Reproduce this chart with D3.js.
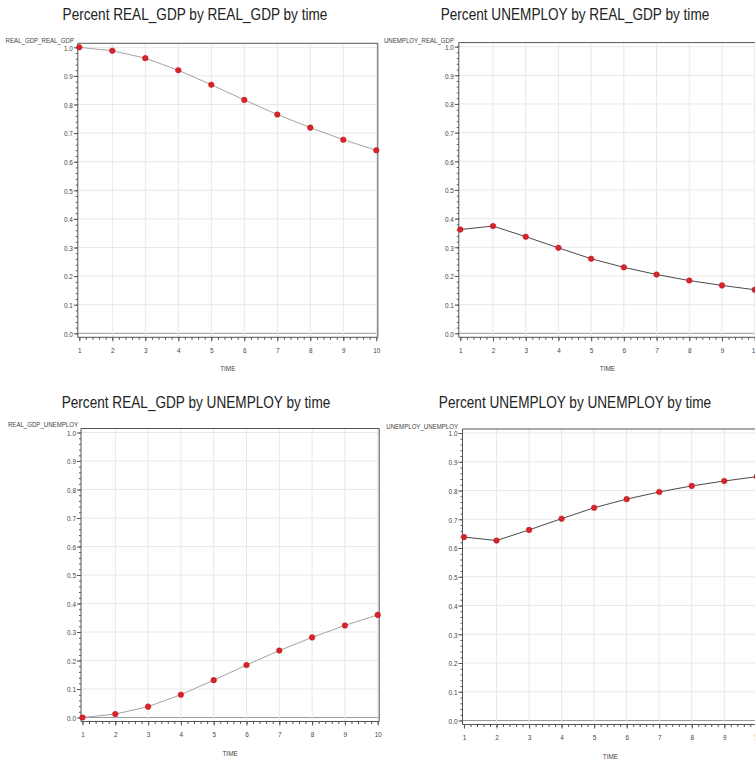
<!DOCTYPE html>
<html><head><meta charset="utf-8">
<script src="https://cdn.jsdelivr.net/npm/d3@7"></script>
<style>
body{margin:0;background:#fff;}
svg{display:block;}
text{font-family:"Liberation Sans","DejaVu Sans",sans-serif;}
</style></head>
<body><svg id="c" width="755" height="761"></svg>
<script>
// ---- data ----
const times = [1,2,3,4,5,6,7,8,9,10];
const realGdpByRealGdp   = [1.000,0.988,0.962,0.920,0.869,0.816,0.765,0.719,0.677,0.640];
const unemployByRealGdp  = [0.362,0.374,0.337,0.298,0.260,0.230,0.205,0.184,0.167,0.152];
const realGdpByUnemploy  = [0.000,0.012,0.038,0.080,0.131,0.184,0.235,0.281,0.323,0.360];
const unemployByUnemploy = [0.638,0.626,0.663,0.702,0.740,0.770,0.795,0.816,0.833,0.848];
const titles = ["Percent REAL_GDP by REAL_GDP by time","Percent UNEMPLOY by REAL_GDP by time",
                "Percent REAL_GDP by UNEMPLOY by time","Percent UNEMPLOY by UNEMPLOY by time"];
const yLabels = ["REAL_GDP_REAL_GDP","UNEMPLOY_REAL_GDP","REAL_GDP_UNEMPLOY","UNEMPLOY_UNEMPLOY"];
const xLabel = "TIME";
const yTicks = [0,0.1,0.2,0.3,0.4,0.5,0.6,0.7,0.8,0.9,1.0];
const series = [realGdpByRealGdp, unemployByRealGdp, realGdpByUnemploy, unemployByUnemploy];

// ---- layout ----
const panels = [
  {x:[79.3,376.3], y:[333.3,47.3], tx:195, ty:20, lx:74, ly:43, line:"#a3a3a3"},
  {x:[460.3,754.7], y:[333.3,46.6], tx:575, ty:20, lx:454, ly:43, line:"#4a4a4a"},
  {x:[82.5,377.7], y:[717.5,432.5], tx:196, ty:408, lx:78, ly:427, line:"#a3a3a3"},
  {x:[464,756.8], y:[720.5,433], tx:575, ty:408, lx:458, ly:429, line:"#4a4a4a"}
];
const svg = d3.select("#c");
const minorY = d3.range(0,51).map(i=>i/50);
const minorX = d3.range(0,46).map(i=>1+i/5);

function squeeze(sel, k){
  sel.each(function(){
    const w = this.getComputedTextLength();
    if (w>0) d3.select(this).attr("textLength", w*k).attr("lengthAdjust","spacingAndGlyphs");
  });
}

panels.forEach((p,i)=>{
  const x = d3.scaleLinear().domain([1,10]).range(p.x);
  const y = d3.scaleLinear().domain([0,1]).range(p.y);
  const g = svg.append("g");
  const left = p.x[0]-1.5, right = p.x[1]+1.5, top = p.y[1]-4, bottom = p.y[0]+4;

  // gridlines
  g.append("g").selectAll("line").data(yTicks).join("line")
    .attr("x1",left).attr("x2",right).attr("y1",d=>y(d)).attr("y2",d=>y(d))
    .attr("stroke",d=>d===0?"#9a9a9a":"#e8e8e8").attr("stroke-width",1);
  g.append("g").selectAll("line").data(times.slice(1)).join("line")
    .attr("x1",d=>x(d)).attr("x2",d=>x(d)).attr("y1",top).attr("y2",bottom)
    .attr("stroke","#e8e8e8").attr("stroke-width",1);

  // frame top / right
  g.append("path").attr("d",`M${left},${top}H${right}V${bottom}`)
    .attr("fill","none").attr("stroke","#555").attr("stroke-width",1);

  // y axis
  const ya = g.append("g").attr("transform",`translate(${left},0)`)
    .call(d3.axisLeft(y).tickValues(yTicks).tickFormat(d3.format(".1f")).tickSize(4).tickSizeOuter(0));
  g.append("g").attr("transform",`translate(${left},0)`)
    .call(d3.axisLeft(y).tickValues(minorY).tickFormat("").tickSize(2).tickSizeOuter(0))
    .select(".domain").remove();
  ya.select(".domain").attr("d",`M0,${top}V${bottom}`);
  // x axis
  const xa = g.append("g").attr("transform",`translate(0,${bottom})`)
    .call(d3.axisBottom(x).tickValues(times).tickFormat(d3.format("d")).tickSize(4).tickSizeOuter(0));
  g.append("g").attr("transform",`translate(0,${bottom})`)
    .call(d3.axisBottom(x).tickValues(minorX).tickFormat("").tickSize(2.5).tickSizeOuter(0))
    .select(".domain").remove();
  xa.select(".domain").attr("d",`M${left},0H${right}`);
  g.selectAll(".domain").attr("stroke","#555");
  g.selectAll(".tick line").attr("stroke","#555");
  ya.selectAll("text").attr("font-size",8).attr("fill","#444").attr("x",-5).attr("dy","0.35em")
    .attr("font-family",'"Liberation Sans",sans-serif');
  xa.selectAll("text").attr("font-size",8).attr("fill","#444").attr("y",10)
    .attr("font-family",'"Liberation Sans",sans-serif');
  squeeze(ya.selectAll("text"), 0.8);
  squeeze(xa.selectAll("text"), 0.8);

  // axis labels
  squeeze(g.append("text").attr("x",(p.x[0]+p.x[1])/2).attr("y",bottom+34).attr("text-anchor","middle")
    .attr("font-size",8).attr("fill","#444").text(xLabel), 0.8);
  squeeze(g.append("text").attr("x",p.lx).attr("y",p.ly).attr("text-anchor","end")
    .attr("font-size",7).attr("fill","#444").text(yLabels[i]), 0.87);

  // title
  squeeze(g.append("text").attr("x",p.tx).attr("y",p.ty).attr("text-anchor","middle")
    .attr("font-size",16).attr("fill","#222").text(titles[i]), 0.85);

  // line + markers
  const data = times.map((t,k)=>[t,series[i][k]]);
  g.append("path").datum(data)
    .attr("d",d3.line().x(d=>x(d[0])).y(d=>y(d[1])))
    .attr("fill","none").attr("stroke",p.line).attr("stroke-width",1);
  g.append("g").selectAll("circle").data(data).join("circle")
    .attr("cx",d=>x(d[0])).attr("cy",d=>y(d[1])).attr("r",2.8)
    .attr("fill","#d8232a").attr("stroke","#b81c22").attr("stroke-width",0.5);
});
</script>
</body></html>
